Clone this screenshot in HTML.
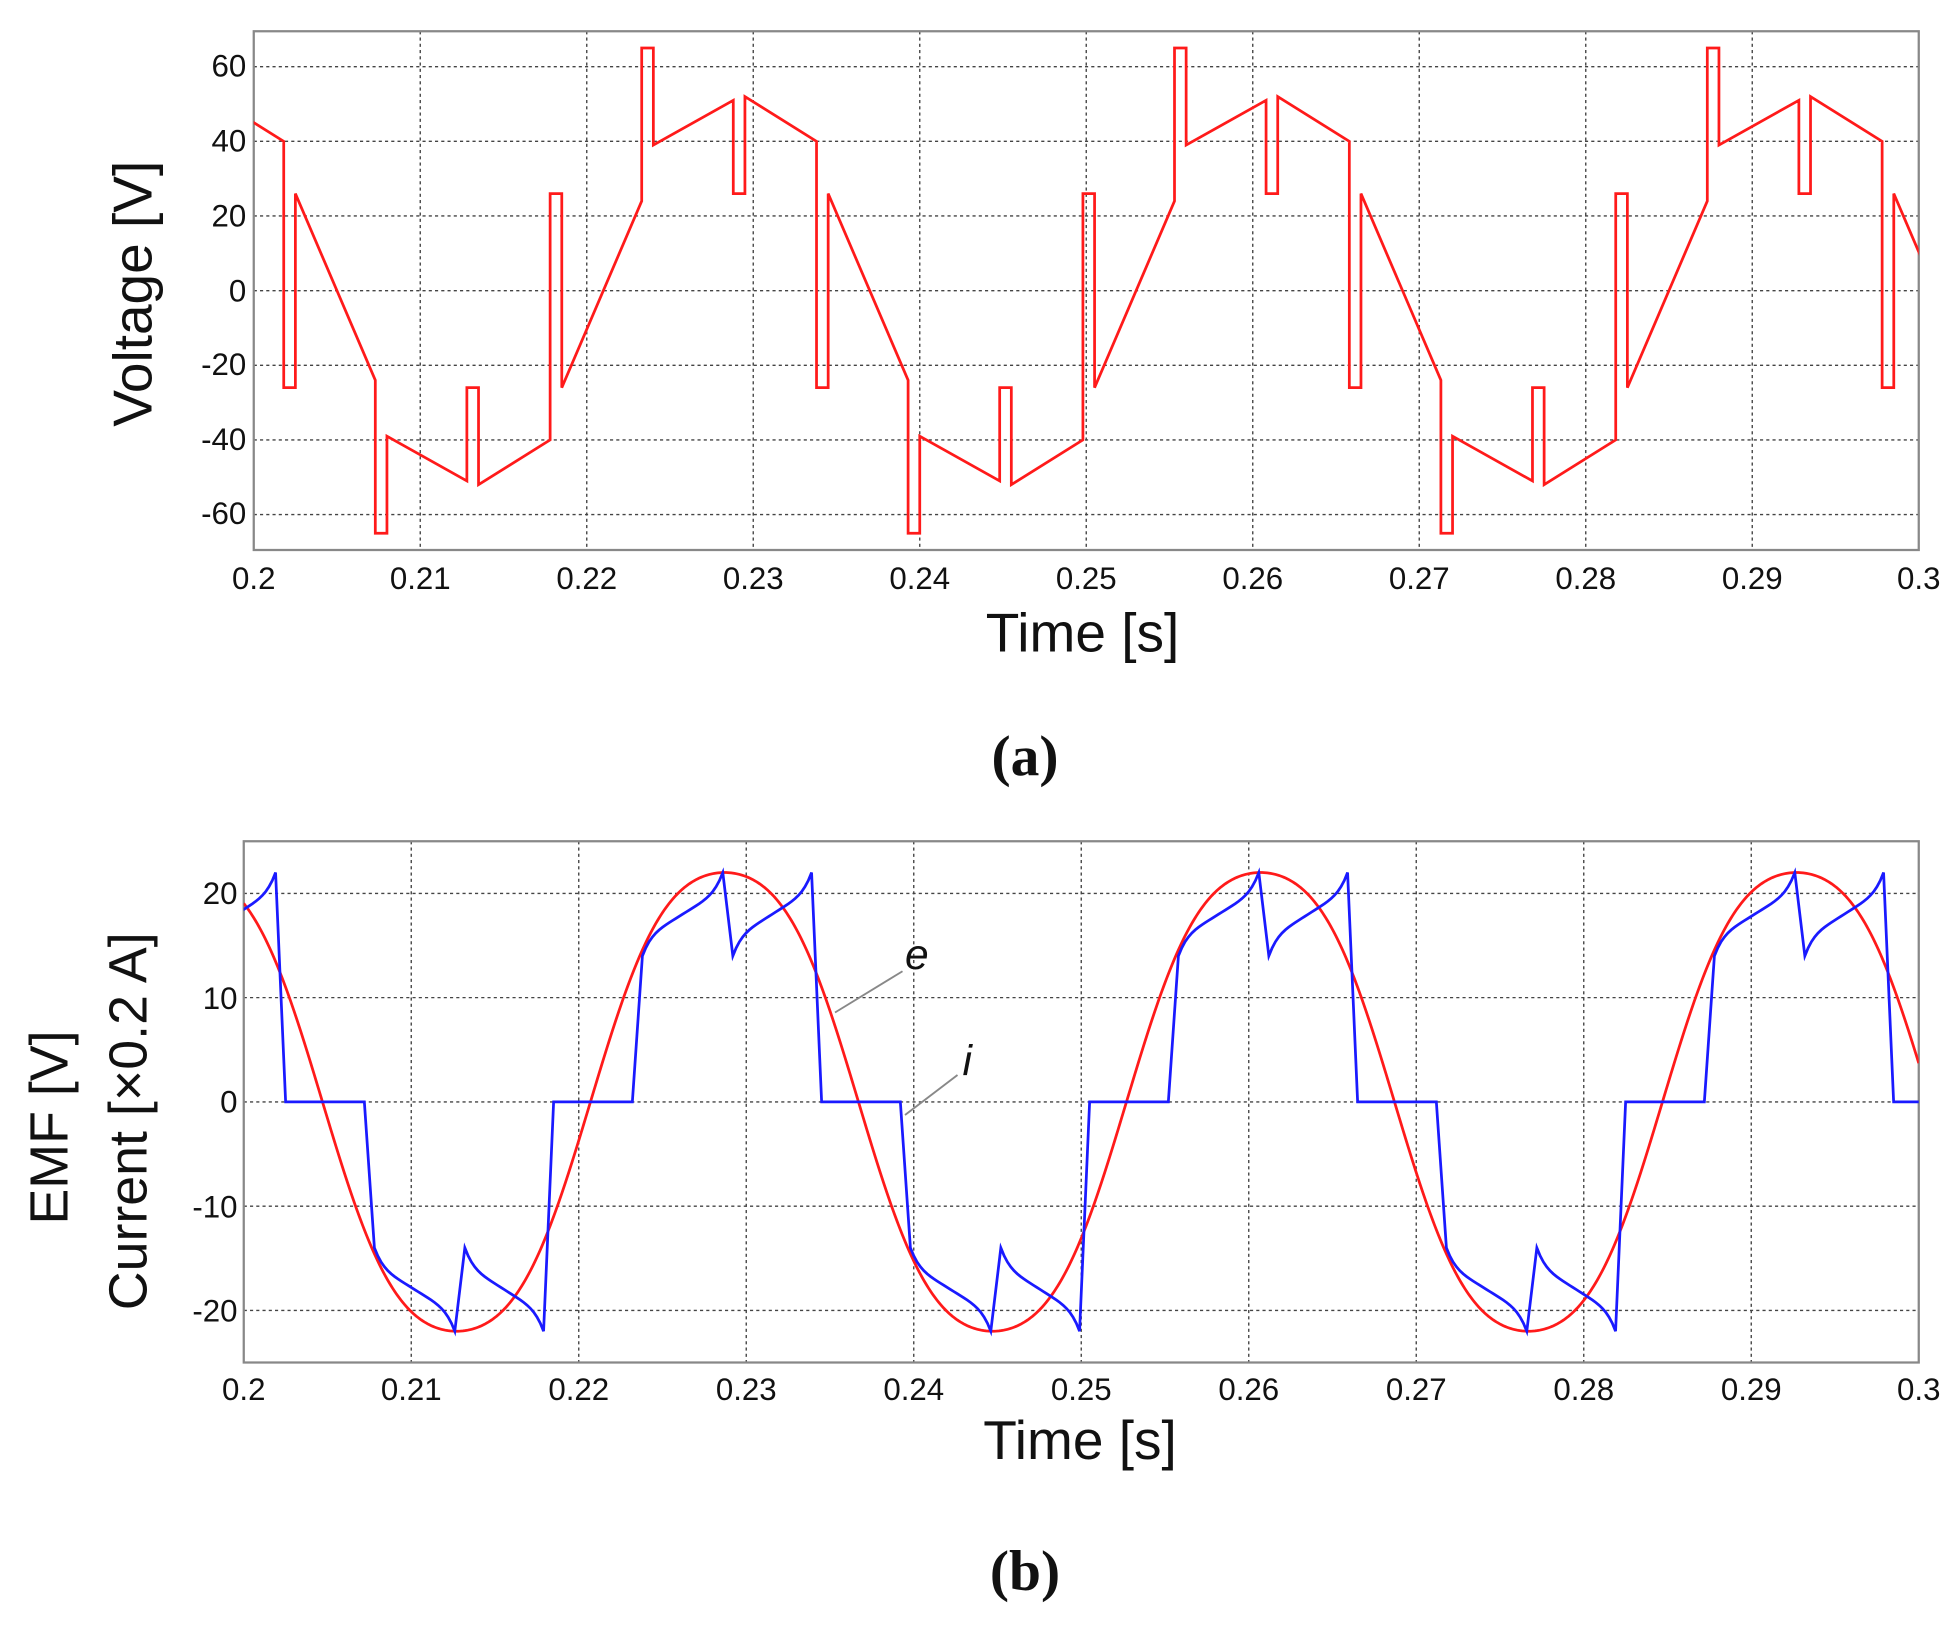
<!DOCTYPE html>
<html><head><meta charset="utf-8">
<style>
html,body{margin:0;padding:0;background:#fff;}
svg{display:block;}
text{font-family:"Liberation Sans",sans-serif;fill:#111;}
</style></head>
<body>
<svg id="s" width="1960" height="1633" viewBox="0 0 1568 1306.4" preserveAspectRatio="none" xmlns="http://www.w3.org/2000/svg">
<rect width="1568" height="1306.4" fill="#fff"/>
<g id="ga"></g>
<g id="gb"></g>
<g font-size="25" text-anchor="end">
<text x="197" y="61">60</text><text x="197" y="121">40</text><text x="197" y="181">20</text>
<text x="197" y="241">0</text><text x="197" y="300">-20</text><text x="197" y="360">-40</text><text x="197" y="419">-60</text>
</g>
<g font-size="25" text-anchor="middle" id="xa"></g>
<text x="866" y="521" font-size="44" text-anchor="middle">Time [s]</text>
<text transform="translate(121,235) rotate(-90)" font-size="44" text-anchor="middle">Voltage [V]</text>
<text x="820" y="620" font-size="46" font-weight="bold" text-anchor="middle" style="font-family:'Liberation Serif',serif">(a)</text>
<g font-size="25" text-anchor="end">
<text x="190" y="723">20</text><text x="190" y="807">10</text><text x="190" y="890">0</text>
<text x="190" y="974">-10</text><text x="190" y="1057">-20</text>
</g>
<g font-size="25" text-anchor="middle" id="xb"></g>
<text x="864" y="1167" font-size="44" text-anchor="middle">Time [s]</text>
<text transform="translate(54,902) rotate(-90)" font-size="43" text-anchor="middle">EMF [V]</text>
<text transform="translate(117,897) rotate(-90)" font-size="43" text-anchor="middle">Current  [×0.2 A]</text>
<text x="820" y="1272" font-size="46" font-weight="bold" text-anchor="middle" style="font-family:'Liberation Serif',serif">(b)</text>
<line x1="722" y1="777" x2="668" y2="810" stroke="#888" stroke-width="1.5"/>
<text x="724" y="775" font-size="34" font-style="italic">e</text>
<line x1="766" y1="860" x2="724" y2="892" stroke="#888" stroke-width="1.5"/>
<text x="770" y="860" font-size="34" font-style="italic">i</text>
</svg>
<script>
var NS="http://www.w3.org/2000/svg";
function el(p,n,a){var e=document.createElementNS(NS,n);for(var k in a)e.setAttribute(k,a[k]);p.appendChild(e);return e;}
function panel(g,L,R,T,B,ymin,ymax,yt,xlab,xly){
  var X=function(t){return L+(t-0.2)/0.1*(R-L);};
  var Y=function(v){return T+(ymax-v)/(ymax-ymin)*(B-T);};
  for(var i=1;i<10;i++){var x=X(0.2+i*0.01);el(g,"line",{x1:x,y1:T,x2:x,y2:B,stroke:"#444","stroke-width":1.1,"stroke-dasharray":"2.5,2.5"});}
  yt.forEach(function(v){var y=Y(v);el(g,"line",{x1:L,y1:y,x2:R,y2:y,stroke:"#444","stroke-width":1.1,"stroke-dasharray":"2.5,2.5"});});
  el(g,"rect",{x:L,y:T,width:R-L,height:B-T,fill:"none",stroke:"#888","stroke-width":1.8});
  var labs=["0.2","0.21","0.22","0.23","0.24","0.25","0.26","0.27","0.28","0.29","0.3"];
  for(var i=0;i<=10;i++){var t=el(xlab,"text",{x:X(0.2+i*0.01),y:xly});t.textContent=labs[i];}
  return {X:X,Y:Y};
}
var ga=document.getElementById("ga");
var A=panel(ga,203,1535,25,440,-69.5,69.5,[60,40,20,0,-20,-40,-60],document.getElementById("xa"),471);
var half=[[0,40],[0,-26],[0.0007,-26],[0.0007,26],[0.0055,-24],[0.0055,-65],[0.0062,-65],[0.0062,-39],[0.011,-51],[0.011,-26],[0.0117,-26],[0.0117,-52]];
var pts=[];var a0=0.2018-0.032;
for(var k=0;k<12;k++){var base=a0+k*0.016,s=(k%2==0)?1:-1;half.forEach(function(p){pts.push([base+p[0],s*p[1]]);});}
var ca=el(ga,"clipPath",{id:"ca"});el(ca,"rect",{x:203,y:20,width:1332,height:425});
var d="";pts.forEach(function(p,i){d+=(i?"L":"M")+A.X(p[0]).toFixed(2)+","+A.Y(p[1]).toFixed(2);});
el(ga,"path",{d:d,fill:"none",stroke:"#ff1a1a","stroke-width":2.2,"clip-path":"url(#ca)","stroke-linejoin":"miter"});
var gb=document.getElementById("gb");
var Bp=panel(gb,195,1535,673,1090,-25,25,[20,10,0,-10,-20],document.getElementById("xb"),1120);
var cb=el(gb,"clipPath",{id:"cb"});el(cb,"rect",{x:195,y:668,width:1340,height:427});
d="";
for(var i=0;i<=1000;i++){var t=0.2+i*0.0001;var x=2*Math.PI*(t-0.1967)/0.032;var v=22*(Math.cos(x)-Math.cos(3*x)/18)/(17/18);d+=(i?"L":"M")+Bp.X(t).toFixed(2)+","+Bp.Y(v).toFixed(2);}
el(gb,"path",{d:d,fill:"none",stroke:"#ff1a1a","stroke-width":2.2,"clip-path":"url(#cb)"});
function curve(u){var v=2*u-1;return 18+4*(0.6*v+0.4*Math.pow(v,5));}
var hp=[[0,-22],[0.0006,0],[0.0053,0],[0.0059,14]];
for(var j=1;j<=24;j++)hp.push([0.0059+0.0048*j/24,curve(j/24)]);
hp.push([0.0113,14]);
for(var j=1;j<=24;j++)hp.push([0.0113+0.0047*j/24,curve(j/24)]);
var s0=0.2499-0.064;pts=[];
for(var k=0;k<12;k++){var base=s0+k*0.016,s=(k%2==0)?1:-1;hp.forEach(function(p){pts.push([base+p[0],s*p[1]]);});}
d="";pts.forEach(function(p,i){d+=(i?"L":"M")+Bp.X(p[0]).toFixed(2)+","+Bp.Y(p[1]).toFixed(2);});
el(gb,"path",{d:d,fill:"none",stroke:"#1a1aff","stroke-width":2.2,"clip-path":"url(#cb)"});
</script>
</body></html>
